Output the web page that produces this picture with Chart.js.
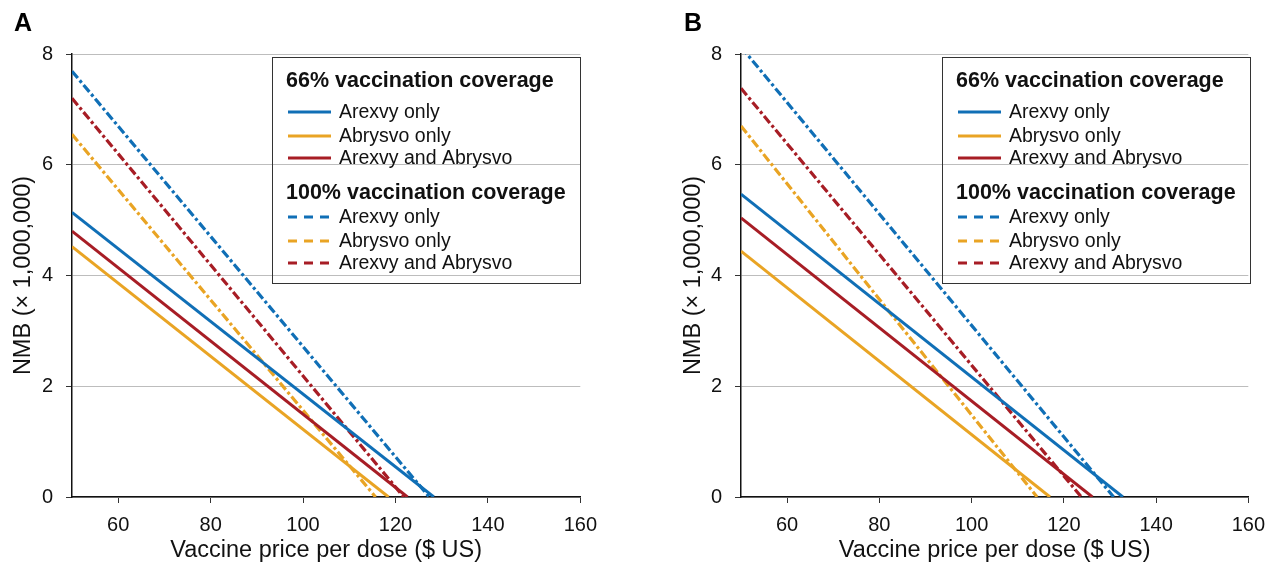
<!DOCTYPE html>
<html>
<head>
<meta charset="utf-8">
<script src="https://cdn.jsdelivr.net/npm/chart.js@4.4.1/dist/chart.umd.min.js"></script>
<style>
  body { margin: 0; background: #fff; width: 1272px; height: 565px; overflow: hidden; position: relative; }
  .panel { position: absolute; top: 0; height: 565px; }
  #panelA { left: 0; width: 607px; }
  #panelB { left: 670px; width: 605px; }
</style>
</head>
<body>
<div class="panel" id="panelA"><canvas id="chartA" width="607" height="565"></canvas></div>
<div class="panel" id="panelB"><canvas id="chartB" width="605" height="565"></canvas></div>
<script>
// Data: NMB (x 1,000,000) at $50 per dose and break-even price (NMB = 0)
const vaccines = ["Arexvy only", "Abrysvo only", "Arexvy and Abrysvo"];
const coverages = ["66% vaccination coverage", "100% vaccination coverage"];
const priceStart = 50;

const nmbStartA66 = [5.14, 4.52, 4.80];
const breakEvenA66 = [128.3, 118.5, 122.6];
const nmbStartA100 = [7.69, 6.55, 7.20];
const breakEvenA100 = [127.3, 115.7, 121.8];

const nmbStartB66 = [5.47, 4.44, 5.04];
const breakEvenB66 = [132.8, 117.0, 126.2];
const nmbStartB100 = [8.13, 6.70, 7.38];
const breakEvenB100 = [130.8, 114.2, 123.8];

const xTicks = [60, 80, 100, 120, 140, 160];
const yTicks = [0, 2, 4, 6, 8];

const colors = ["#106fb6", "#e9a424", "#a71d25"];
const FONT = '"Liberation Sans", Arial, Helvetica, sans-serif';

/* Boxed legend with two headed groups + panel letter */
const legendBox = {
  id: "legendBox",
  afterDraw(chart, args, opts) {
    const ctx = chart.ctx;
    ctx.save();

    ctx.fillStyle = "#000";
    ctx.font = "bold 25px " + FONT;
    ctx.textBaseline = "alphabetic";
    ctx.fillText(opts.letter, 14, 31);

    ctx.strokeStyle = "#333";
    ctx.lineWidth = 1;
    ctx.strokeRect(272.5, 57.5, 308, 226);

    const titleY = [81, 193];
    const itemY = [[112, 136, 158], [217, 241, 263]];
    coverages.forEach((title, g) => {
      ctx.fillStyle = "#111";
      ctx.font = "bold 21.5px " + FONT;
      ctx.textBaseline = "middle";
      ctx.fillText(title, 286, titleY[g]);

      vaccines.forEach((name, i) => {
        const y = itemY[g][i];
        ctx.strokeStyle = colors[i];
        ctx.lineWidth = 3;
        ctx.setLineDash(g === 0 ? [] : [9, 7]);
        ctx.beginPath();
        ctx.moveTo(288, y);
        ctx.lineTo(331, y);
        ctx.stroke();
        ctx.setLineDash([]);

        ctx.fillStyle = "#111";
        ctx.font = "19.5px " + FONT;
        ctx.fillText(name, 339, y + 1);
      });
    });
    ctx.restore();
  }
};

function buildDatasets(start66, end66, start100, end100) {
  const sets = [];
  vaccines.forEach((name, i) => {
    sets.push({
      label: name + " (66%)",
      data: [{ x: priceStart, y: start66[i] }, { x: end66[i], y: 0 }],
      borderColor: colors[i],
      borderWidth: 3,
      pointRadius: 0,
      fill: false,
    });
  });
  vaccines.forEach((name, i) => {
    sets.push({
      label: name + " (100%)",
      data: [{ x: priceStart, y: start100[i] }, { x: end100[i], y: 0 }],
      borderColor: colors[i],
      borderWidth: 3.2,
      borderDash: [9, 3, 3, 3],
      pointRadius: 0,
      fill: false,
    });
  });
  return sets;
}

function makeChart(id, letter, yWidth, padRight, datasets) {
  const ctx = document.getElementById(id).getContext("2d");
  return new Chart(ctx, {
    type: "line",
    data: { datasets },
    plugins: [legendBox],
    options: {
      responsive: false,
      animation: false,
      layout: { padding: { top: 54, right: padRight, left: 0, bottom: 0 } },
      plugins: {
        legend: { display: false },
        tooltip: { enabled: false },
        legendBox: { letter },
      },
      scales: {
        x: {
          type: "linear",
          min: 50,
          max: 160,
          afterBuildTicks: (scale) => { scale.ticks = xTicks.map((v) => ({ value: v })); },
          afterFit: (scale) => { scale.height = 68; },
          border: { color: "#111", width: 1.5 },
          grid: { drawOnChartArea: false, drawTicks: true, tickLength: 6, tickColor: "#333" },
          ticks: { color: "#111", font: { family: FONT, size: 20 }, padding: 10, maxRotation: 0 },
          title: {
            display: true,
            text: "Vaccine price per dose ($ US)",
            color: "#111",
            font: { family: FONT, size: 23.5 },
            padding: { top: 0, bottom: 0 },
          },
        },
        y: {
          type: "linear",
          min: 0,
          max: 8,
          afterBuildTicks: (scale) => { scale.ticks = yTicks.map((v) => ({ value: v })); },
          afterFit: (scale) => { scale.width = yWidth; },
          border: { color: "#111", width: 1.5 },
          grid: { color: "#bdbdbd", lineWidth: 1, tickLength: 6, tickColor: "#333" },
          ticks: { color: "#111", font: { family: FONT, size: 20 }, padding: 13 },
          title: {
            display: true,
            text: "NMB (\u00d7 1,000,000)",
            color: "#111",
            font: { family: FONT, size: 23.5 },
            padding: { top: 9, bottom: 0 },
          },
        },
      },
    },
  });
}

window.addEventListener("DOMContentLoaded", () => {
  makeChart("chartA", "A", 72, 20, buildDatasets(nmbStartA66, breakEvenA66, nmbStartA100, breakEvenA100));
  makeChart("chartB", "B", 71, 20, buildDatasets(nmbStartB66, breakEvenB66, nmbStartB100, breakEvenB100));
});
</script>
</body>
</html>
